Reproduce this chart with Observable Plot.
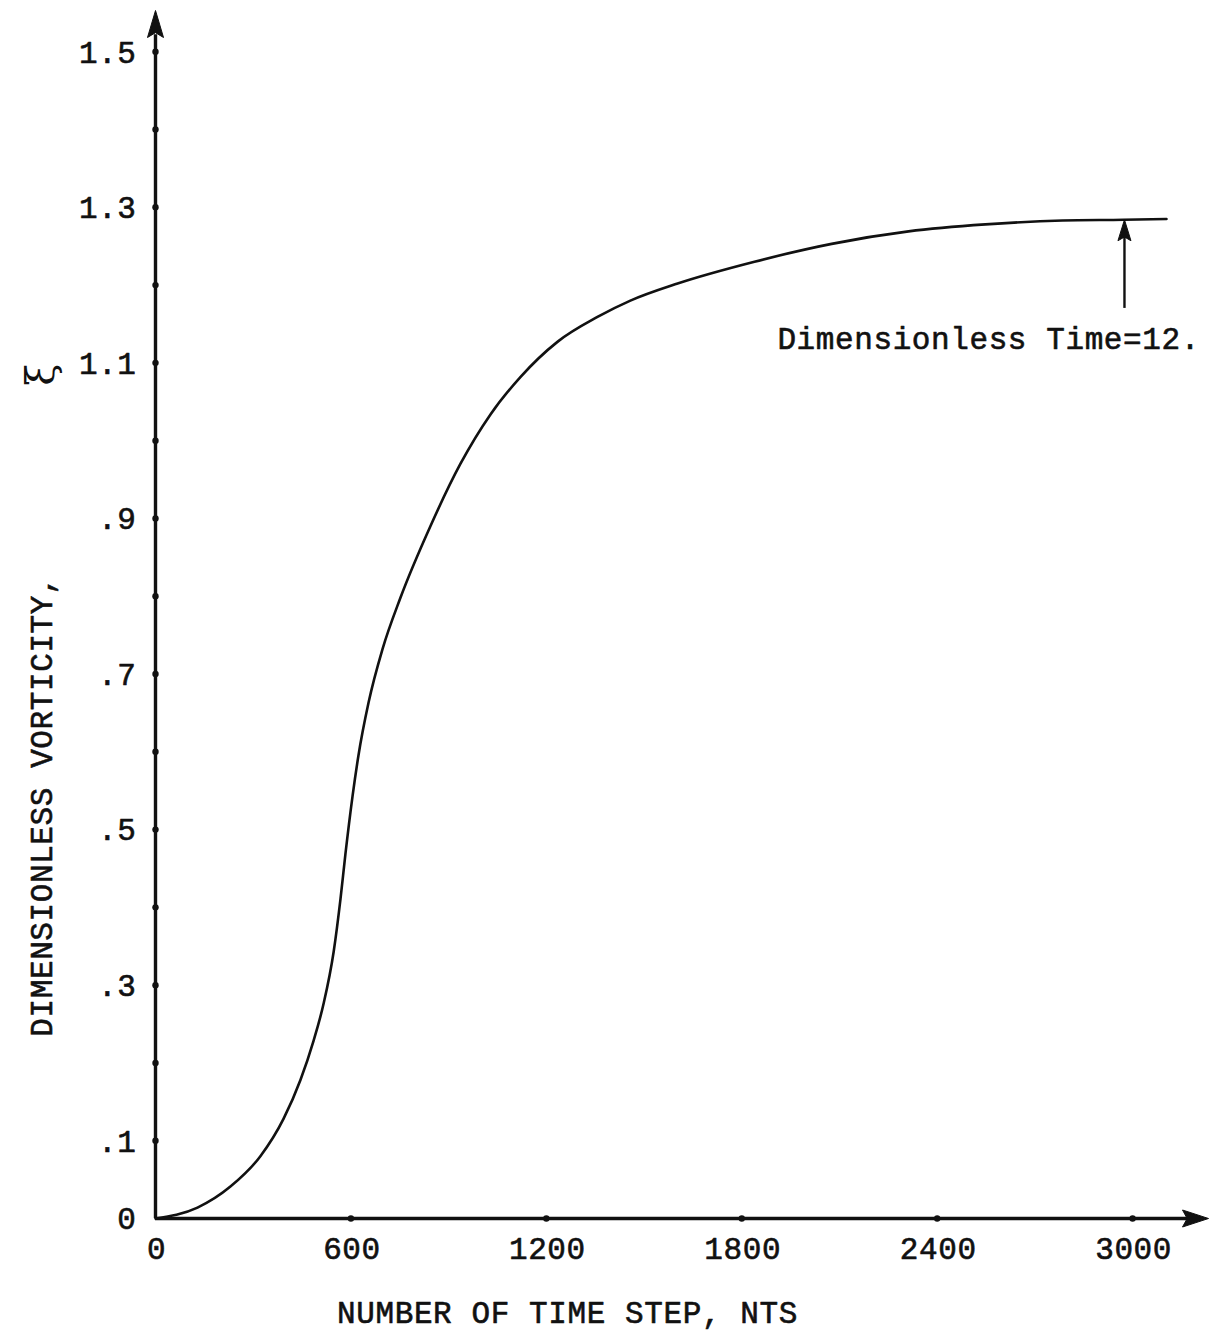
<!DOCTYPE html>
<html>
<head>
<meta charset="utf-8">
<script src="https://cdn.jsdelivr.net/npm/d3@7"></script>
<script src="https://cdn.jsdelivr.net/npm/@observablehq/plot@0.6"></script>
<style>
  html, body { margin: 0; padding: 0; background: #fff; }
  #chart svg text { letter-spacing: 0.6px; }
</style>
</head>
<body>
<div id="chart"></div>
<script>
// Curve: number of time steps vs dimensionless vorticity
const nts = [0, 129, 230, 322, 393, 445, 485, 516, 547, 568, 583, 605, 623, 654, 697, 752, 844, 936, 1029, 1121, 1234, 1357, 1458, 1603, 1839, 2076, 2312, 2548, 2785, 2972, 3104];
const vorticity = [0, 0.014, 0.041, 0.080, 0.128, 0.178, 0.228, 0.276, 0.343, 0.411, 0.468, 0.543, 0.595, 0.663, 0.732, 0.798, 0.890, 0.970, 1.034, 1.082, 1.127, 1.159, 1.180, 1.202, 1.230, 1.253, 1.269, 1.278, 1.283, 1.284, 1.285];

// Axis ticks and labels
const xTicks = [0, 600, 1200, 1800, 2400, 3000];
const xTickLabels = ["0", "600", "1200", "1800", "2400", "3000"];
const yTickDots = [0.1, 0.2, 0.3, 0.4, 0.5, 0.6, 0.7, 0.8, 0.9, 1.0, 1.1, 1.2, 1.3, 1.4, 1.5];
const yTicks = [0, 0.1, 0.3, 0.5, 0.7, 0.9, 1.1, 1.3, 1.5];
const yTickLabels = ["0", ".1", ".3", ".5", ".7", ".9", "1.1", "1.3", "1.5"];

const xTitle = "NUMBER OF TIME STEP, NTS";
const yTitle = "DIMENSIONLESS VORTICITY,";
const ySymbol = "ξ";
const annotationText = "Dimensionless Time=12.";
const annotationNts = 2975;      // marked time step
const annotationValue = 1.284;   // vorticity at marked time

const xMax = 3233, yMax = 1.553;

const curve = nts.map((x, i) => ({x, y: vorticity[i]}));
const xt = xTicks.map((x, i) => ({x, label: xTickLabels[i]}));
const yt = yTicks.map((y, i) => ({y, label: yTickLabels[i]}));

const font = "'Liberation Mono', 'Courier New', monospace";
const ink = "#111";

// filled arrowhead symbol, tip at the anchor point, pointing up
function head(L, W) {
  return {draw(ctx) { ctx.moveTo(0, 0); ctx.lineTo(W, L); ctx.lineTo(0, L * 0.82); ctx.lineTo(-W, L); ctx.closePath(); }};
}

const textOpts = {fill: ink, stroke: ink, strokeWidth: 0.6, fontSize: 31};

const chart = Plot.plot({
  width: 1213,
  height: 1333,
  marginLeft: 155,
  marginRight: 5,
  marginTop: 10,
  marginBottom: 115,
  style: {fontFamily: font, fontSize: "31px", background: "#fff", color: ink},
  x: {domain: [0, xMax], axis: null},
  y: {domain: [0, yMax], axis: null},
  marks: [
    // axes
    Plot.ruleX([0], {y1: 0, y2: yMax * 0.98, stroke: ink, strokeWidth: 3.4}),
    Plot.ruleY([0], {x1: 0, x2: xMax * 0.99, stroke: ink, strokeWidth: 3.4}),
    Plot.dot([yMax], {x: () => 0, y: d => d, symbol: head(27, 8), fill: ink, stroke: ink, strokeWidth: 1}),
    Plot.dot([xMax], {x: d => d, y: () => 0, symbol: head(26, 8.5), rotate: 90, fill: ink, stroke: ink, strokeWidth: 1}),
    // tick dots
    Plot.dot(yTickDots, {x: () => 0, y: d => d, r: 3.2, fill: ink, stroke: null}),
    Plot.dot(xTicks.slice(1), {x: d => d, y: () => 0, r: 3.2, fill: ink, stroke: null}),
    // tick labels
    Plot.text(yt, {x: () => 0, y: "y", text: "label", textAnchor: "end", dx: -19, dy: 1, ...textOpts}),
    Plot.text(xt, {x: "x", y: () => 0, text: "label", dy: 31, dx: 1, ...textOpts}),
    // axis titles
    Plot.text([xTitle], {x: () => 1265, y: () => 0, text: d => d, dy: 95, ...textOpts}),
    Plot.text([yTitle], {x: () => 0, y: () => 0.53, text: d => d, rotate: -90, dx: -113, ...textOpts}),
    Plot.text([ySymbol], {x: () => 0, y: () => 1.085, text: d => d, rotate: -90, dx: -114, fill: ink, fontSize: 40, fontFamily: "'DejaVu Serif', serif"}),
    // curve
    Plot.line(curve, {x: "x", y: "y", curve: "monotone-x", stroke: ink, strokeWidth: 2.6}),
    // annotation arrow and label
    Plot.ruleX([annotationNts], {y1: 1.17, y2: annotationValue - 0.015, stroke: ink, strokeWidth: 2.4}),
    Plot.dot([annotationValue], {x: () => annotationNts, y: d => d, symbol: head(21, 6.5), fill: ink, stroke: ink, strokeWidth: 1}),
    Plot.text([annotationText], {x: () => 2558, y: () => 1.131, text: d => d, ...textOpts})
  ]
});
document.getElementById("chart").appendChild(chart);
</script>
</body>
</html>
